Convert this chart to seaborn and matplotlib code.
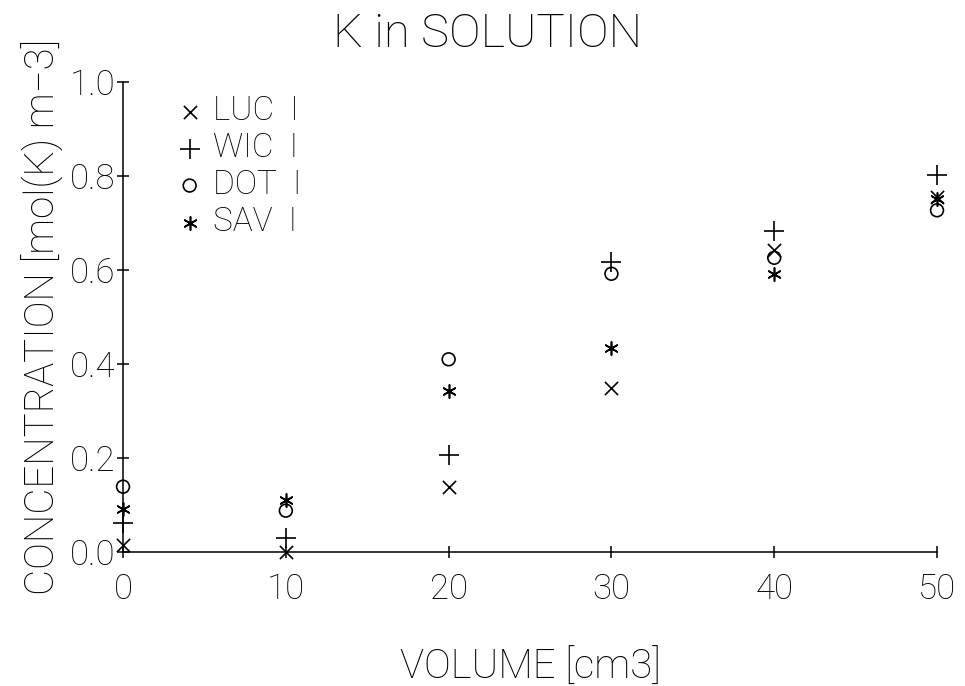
import matplotlib
matplotlib.use("Agg")
import matplotlib.pyplot as plt
import seaborn as sns
import pandas as pd

volume = [0, 10, 20, 30, 40, 50]
luc = [0.015, 0.0, 0.139, 0.348, 0.643, 0.755]
wic = [0.062, 0.03, 0.207, 0.616, 0.684, 0.803]
dot = [0.139, 0.088, 0.41, 0.592, 0.626, 0.727]
sav = [0.092, 0.11, 0.342, 0.434, 0.592, 0.752]
series_names = ["LUC  I", "WIC  I", "DOT  I", "SAV  I"]
x_ticks = [0, 10, 20, 30, 40, 50]
y_ticks = [0.0, 0.2, 0.4, 0.6, 0.8, 1.0]

sns.set_style("white")
FONT = ["Roboto", "DejaVu Sans"]
plt.rcParams["font.family"] = FONT
plt.rcParams["font.weight"] = "light"
plt.rcParams["axes.labelweight"] = "light"
plt.rcParams["text.color"] = "black"
plt.rcParams["axes.labelcolor"] = "black"

fig = plt.figure(figsize=(9.65, 6.86), dpi=100)
ax = fig.add_axes([0.1275, 0.1953, 0.971 - 0.1275, 0.8805 - 0.1953])

styles = [
    dict(marker="x", s=90, color="black", linewidth=1.2),
    dict(marker="+", s=190, color="black", linewidth=1.2),
    dict(marker="o", s=85, facecolor="none", edgecolor="black", linewidth=1.2),
    dict(marker=(6, 2, 0), s=90, color="black", linewidth=1.2),
]
for vals, name, st in zip([luc, wic, dot, sav], series_names, styles):
    df = pd.DataFrame({"v": volume, "c": vals})
    sns.scatterplot(data=df, x="v", y="c", ax=ax, label=name, clip_on=False, **st)

ax.set_xlim(0, 50)
ax.set_ylim(0, 1.0)
ax.set_xticks(x_ticks)
ax.set_xticklabels([str(t) for t in x_ticks])
ax.set_yticks(y_ticks)
ax.set_yticklabels([f"{t:.1f}" for t in y_ticks])
for s in ["top", "right"]:
    ax.spines[s].set_visible(False)
for s in ["left", "bottom"]:
    ax.spines[s].set_color("black")
    ax.spines[s].set_linewidth(1.1)
ax.tick_params(axis="both", direction="inout", length=9, width=1.1,
               colors="black", labelsize=25, pad=1, bottom=True, left=True)
ax.tick_params(axis="x", pad=10)

ax.set_xlabel("VOLUME [cm3]", fontsize=29, labelpad=30, fontweight="light")
ax.set_ylabel("CONCENTRATION [mol(K) m\u22123]", fontsize=29, labelpad=4,
              fontweight="light")
fig.text(0.505, 0.950, "K in SOLUTION", fontsize=34, ha="center", va="center",
         fontweight="light")

leg = ax.legend(loc="upper left", frameon=False, fontsize=24,
                bbox_to_anchor=(0.045, 1.0), handletextpad=0.2,
                labelspacing=0.15, handlelength=1.0, borderaxespad=0)

fig.savefig("out.png", dpi=100, facecolor="white")
